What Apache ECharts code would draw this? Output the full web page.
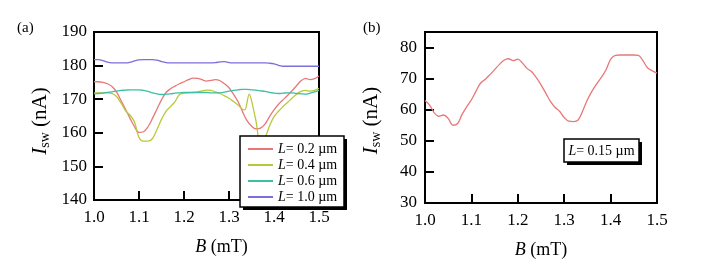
<!DOCTYPE html>
<html><head><meta charset="utf-8">
<script src="https://cdn.jsdelivr.net/npm/echarts@6/dist/echarts.min.js"></script>
<style>html,body{margin:0;padding:0;background:#fff}#c{width:706px;height:280px}</style>
</head><body><div id="c"></div>
<script>
// Panel (a): field B (mT) and switching current Isw (nA)
const fieldA = [1.00,1.01,1.02,1.03,1.04,1.05,1.06,1.07,1.08,1.09,1.10,1.11,1.12,1.13,1.14,1.15,1.16,1.17,1.18,1.19,1.20,1.21,1.22,1.23,1.24,1.25,1.26,1.27,1.28,1.29,1.30,1.31,1.32,1.33,1.34,1.35,1.36,1.37,1.38,1.39,1.40,1.41,1.42,1.43,1.44,1.45,1.46,1.47,1.48,1.49,1.50];
const iswL02 = [175.2,175.2,175.0,174.6,173.8,172.2,169.6,167.0,164.3,161.8,160.1,160.3,161.8,164.3,167.1,169.8,172.0,173.1,173.9,174.6,175.2,175.8,176.3,176.2,175.8,175.4,175.6,175.8,175.5,174.6,173.4,171.5,169.3,166.3,163.6,162.0,161.2,161.4,162.6,164.8,166.8,168.5,169.8,171.1,172.5,174.0,175.5,176.2,175.8,176.1,176.9];
const fieldA04 = [1.00,1.01,1.02,1.03,1.04,1.05,1.06,1.07,1.08,1.09,1.10,1.11,1.12,1.13,1.14,1.15,1.16,1.17,1.18,1.19,1.20,1.21,1.22,1.23,1.24,1.25,1.26,1.27,1.28,1.29,1.30,1.31,1.32,1.33,1.335,1.345,1.35,1.36,1.37,1.38,1.39,1.40,1.41,1.42,1.43,1.44,1.45,1.46,1.47,1.48,1.49,1.50];
const iswL04 = [171.9,171.9,171.9,171.9,171.7,170.8,168.9,166.6,165.3,163.2,158.6,157.5,157.5,158.3,161.0,164.0,166.4,167.8,169.3,171.4,171.8,171.9,172.0,172.2,172.5,172.7,172.6,172.2,171.7,171.0,170.3,169.3,168.3,167.0,166.8,171.5,169.6,163.5,156.5,158.5,162.0,164.8,166.4,167.8,169.0,170.3,171.5,172.3,172.6,172.4,172.6,173.2];
const iswL06 = [171.6,171.7,171.8,172.0,172.2,172.4,172.6,172.7,172.8,172.8,172.8,172.6,172.3,171.9,171.6,171.4,171.5,171.6,171.8,171.9,172.0,172.0,172.0,172.0,172.0,172.0,171.9,171.9,171.9,172.1,172.4,172.6,172.8,172.9,172.9,172.8,172.7,172.5,172.3,172.0,171.8,171.7,171.8,171.9,171.9,171.7,171.6,171.5,171.8,172.2,172.6];
const iswL10 = [181.8,181.8,181.5,181.0,180.8,180.8,180.8,180.8,181.0,181.4,181.7,181.8,181.8,181.8,181.6,181.2,180.9,180.8,180.8,180.8,180.8,180.8,180.8,180.8,180.8,180.8,180.8,180.9,181.1,181.2,180.9,180.8,180.8,180.8,180.8,180.8,180.8,180.8,180.8,180.7,180.5,180.1,179.8,179.8,179.8,179.8,179.8,179.8,179.8,179.8,179.8];
// Panel (b)
const fieldB = fieldA;
const iswL015 = [63.0,61.5,59.0,57.9,58.3,57.2,55.0,55.5,58.5,61.0,63.2,66.0,68.6,69.8,71.3,72.9,74.5,75.9,76.4,75.8,76.3,75.0,73.3,72.2,70.3,68.0,65.4,62.8,60.8,59.5,57.5,56.3,56.2,56.7,59.7,63.2,66.0,68.3,70.4,72.8,76.2,77.5,77.6,77.6,77.6,77.6,77.5,75.7,73.4,72.5,71.8];
const seriesNamesA = ['L= 0.2 µm','L= 0.4 µm','L= 0.6 µm','L= 1.0 µm'];
const labelB = 'L= 0.15 µm';

const colors = ['#e87878','#b8c93a','#3dbfa3','#7b6fdc'];
const FONT = 'Liberation Serif';
const pair = (xs, ys) => xs.map((x, i) => [x, ys[i]]);

const chart = echarts.init(document.getElementById('c'), null, {renderer:'canvas'});
const xRich = {
  it:{fontFamily:FONT,fontStyle:'italic',fontSize:18,lineHeight:22,color:'#000'},
  n:{fontFamily:FONT,fontSize:18,lineHeight:22,color:'#000'}
};
const yRich = {
  it:{fontFamily:FONT,fontStyle:'italic',fontSize:21,lineHeight:24,color:'#000'},
  sub:{fontFamily:FONT,fontSize:14,lineHeight:13,verticalAlign:'bottom',color:'#000'},
  n:{fontFamily:FONT,fontSize:21,lineHeight:24,color:'#000'}
};
function xAxis(gi, shift){
  return {type:'value',gridIndex:gi,min:1.0,max:1.5,interval:0.1,
    axisLine:{show:false},splitLine:{show:false},
    axisTick:{inside:true,length:9,lineStyle:{color:'#000',width:2}},
    axisLabel:{fontFamily:FONT,fontSize:17,color:'#000',margin:9,formatter:v=>v.toFixed(1)},
    name:'{it|B}{n| (mT)}',nameLocation:'middle',nameGap:36,
    nameTextStyle:{rich:xRich,padding:[0,0,0,shift]}};
}
function yAxis(gi, min, max, margin, pad){
  return {type:'value',gridIndex:gi,min:min,max:max,interval:10,
    axisLine:{show:false},splitLine:{show:false},
    axisTick:{inside:true,length:9,lineStyle:{color:'#000',width:2}},
    axisLabel:{fontFamily:FONT,fontSize:17,color:'#000',margin:margin,showMaxLabel:true,
      formatter:v=>(v%10===0?String(v):'')},
    name:'{it|I}{sub|sw}{n| (nA)}',nameLocation:'middle',nameGap:42,
    nameTextStyle:{rich:yRich,padding:[0,pad,0,0]}};
}
const lineS = (name, data, color, xi, yi) => ({
  name, type:'line', xAxisIndex:xi, yAxisIndex:yi, data, smooth:0.35,
  symbol:'none', lineStyle:{color, width:1.3}, itemStyle:{color}, z:3
});
const boxRect = (x, y, w, h) => ([
  {type:'rect',z:100,shape:{x:x+3,y:y+3,width:w,height:h},style:{fill:'#000'}},
  {type:'rect',z:101,shape:{x:x,y:y,width:w,height:h},style:{fill:'#fff',stroke:'#000',lineWidth:1.5}}
]);

chart.setOption({
  animation:false,
  backgroundColor:'#fff',
  title:[
    {text:'(a)',left:17,top:21,padding:0,textStyle:{fontFamily:FONT,fontSize:15,fontWeight:'normal',color:'#000'}},
    {text:'(b)',left:363,top:21,padding:0,textStyle:{fontFamily:FONT,fontSize:15,fontWeight:'normal',color:'#000'}}
  ],
  grid:[
    {left:94,top:32,width:225,height:168,show:true,borderColor:'#000',borderWidth:2,backgroundColor:'transparent'},
    {left:425,top:32,width:232,height:171,show:true,borderColor:'#000',borderWidth:2,backgroundColor:'transparent'}
  ],
  xAxis:[xAxis(0,30), xAxis(1,0)],
  yAxis:[yAxis(0,140,190,7,10), yAxis(1,30,85,8,6)],
  legend:{
    orient:'vertical',left:241,top:135,data:seriesNamesA,z:120,
    padding:[7,4,5,6],itemGap:2,itemWidth:25,itemHeight:14,
    itemStyle:{opacity:0},
    formatter:n=>'{it|L}{n|'+n.slice(1)+'}',
    textStyle:{rich:{it:{fontFamily:FONT,fontStyle:'italic',fontSize:14,lineHeight:14,color:'#000'},
      n:{fontFamily:FONT,fontSize:14,lineHeight:14,color:'#000'}}}
  },
  graphic:[
    ...boxRect(240,136,104,71),
    ...boxRect(564,139,75,23),
    {type:'text',z:102,x:601.5,y:151,style:{text:'{it|L}{n|'+labelB.slice(1)+'}',align:'center',verticalAlign:'middle',
      rich:{it:{fontFamily:FONT,fontStyle:'italic',fontSize:14,fill:'#000'},n:{fontFamily:FONT,fontSize:14,fill:'#000'}}}}
  ],
  series:[
    lineS(seriesNamesA[0], pair(fieldA, iswL02), colors[0], 0, 0),
    lineS(seriesNamesA[1], pair(fieldA04, iswL04), colors[1], 0, 0),
    lineS(seriesNamesA[2], pair(fieldA, iswL06), colors[2], 0, 0),
    lineS(seriesNamesA[3], pair(fieldA, iswL10), colors[3], 0, 0),
    lineS(labelB, pair(fieldB, iswL015), colors[0], 1, 1)
  ]
});
</script></body></html>
